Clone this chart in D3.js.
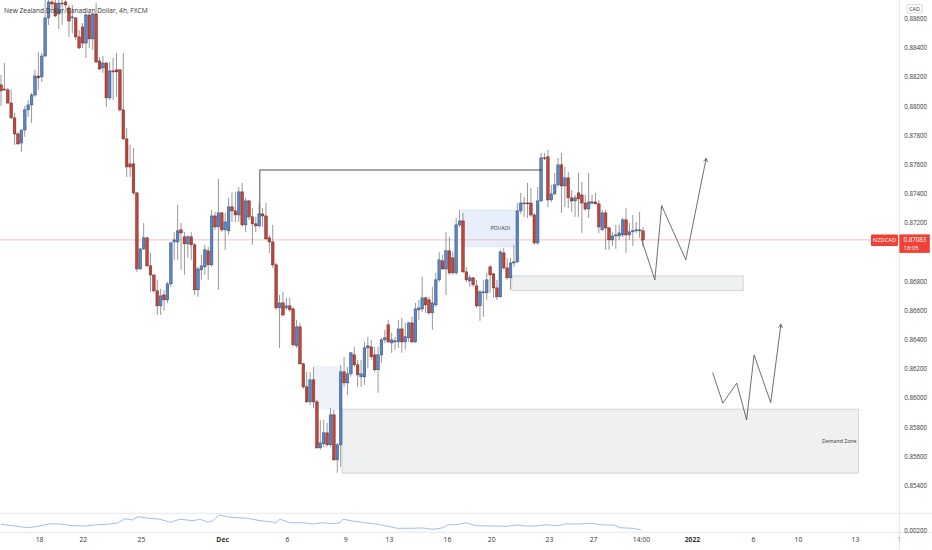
<!DOCTYPE html>
<html><head><meta charset="utf-8">
<script src="https://cdn.jsdelivr.net/npm/d3@7"></script>
<style>
html,body{margin:0;padding:0;background:#fff;}
svg{display:block;font-family:"Open Sans",sans-serif;}
</style></head><body>
<svg id="c" width="932" height="550"></svg>
<script>
// ---- data (NZD/CAD 4h candles) ----
const open=[0.88145,0.88117,0.88111,0.88021,0.87919,0.87809,0.87747,0.87836,0.87974,0.88008,
0.88076,0.88206,0.88200,0.88343,0.88604,0.88713,0.88706,0.88631,0.88706,0.88713,
0.88672,0.88604,0.88604,0.88474,0.88542,0.88432,0.88624,0.88460,0.88631,0.88309,
0.88261,0.88295,0.88056,0.88241,0.88248,0.88248,0.87974,0.87775,0.87604,0.87604,
0.87405,0.86884,0.87021,0.87097,0.86905,0.86843,0.86734,0.86631,0.86706,0.86672,
0.86782,0.87069,0.87069,0.87152,0.87104,0.87056,0.87104,0.87049,0.86741,0.86878,
0.86898,0.87008,0.86912,0.87247,0.87172,0.87268,0.87152,0.87145,0.87309,0.87282,
0.87254,0.87412,0.87186,0.87350,0.87241,0.87193,0.87179,0.87261,0.87247,0.87097,
0.87069,0.86912,0.86617,0.86651,0.86617,0.86631,0.86610,0.86357,0.86487,0.86234,
0.86076,0.85973,0.86124,0.85973,0.85658,0.85686,0.85761,0.85679,0.85884,0.85576,
0.85679,0.86179,0.86103,0.86165,0.86295,0.86227,0.86145,0.86145,0.86343,0.86350,
0.86295,0.86193,0.86295,0.86398,0.86501,0.86377,0.86384,0.86384,0.86473,0.86384,
0.86412,0.86514,0.86384,0.86604,0.86610,0.86686,0.86672,0.86583,0.86638,0.86809,
0.86939,0.86884,0.87008,0.86960,0.86857,0.87186,0.87213,0.86864,0.86802,0.86823,
0.86768,0.86631,0.86720,0.86720,0.86898,0.86850,0.86754,0.86693,0.86994,0.86891,
0.86823,0.86925,0.86932,0.87282,0.87336,0.87336,0.87336,0.87254,0.87062,0.87350,
0.87645,0.87652,0.87357,0.87398,0.87460,0.87597,0.87453,0.87508,0.87371,0.87350,
0.87405,0.87391,0.87336,0.87295,0.87343,0.87343,0.87330,0.87152,0.87268,0.87165,
0.87083,0.87110,0.87110,0.87117,0.87220,0.87117,0.87138,0.87145,0.87145,0.87145];
const high=[0.88213,0.88295,0.88124,0.88111,0.87953,0.87823,0.87836,0.88001,0.88042,0.88090,
0.88248,0.88371,0.88364,0.88727,0.88761,0.88796,0.88748,0.88741,0.88741,0.88734,
0.88693,0.88693,0.88611,0.88522,0.88569,0.88638,0.88638,0.88638,0.88706,0.88337,
0.88343,0.88302,0.88302,0.88330,0.88364,0.88254,0.88364,0.87850,0.87734,0.87713,
0.87412,0.87028,0.87199,0.87104,0.86994,0.86843,0.86809,0.86747,0.86741,0.86795,
0.87069,0.87138,0.87323,0.87199,0.87138,0.87117,0.87138,0.87062,0.86898,0.86980,
0.87049,0.87035,0.87289,0.87275,0.87501,0.87275,0.87268,0.87371,0.87412,0.87412,
0.87446,0.87473,0.87371,0.87357,0.87302,0.87241,0.87336,0.87302,0.87336,0.87117,
0.87186,0.86925,0.86706,0.86727,0.86686,0.86686,0.86624,0.86535,0.86514,0.86240,
0.86179,0.86179,0.86213,0.85987,0.85850,0.85850,0.85829,0.85932,0.85919,0.85692,
0.86227,0.86282,0.86213,0.86316,0.86350,0.86261,0.86261,0.86384,0.86419,0.86398,
0.86350,0.86350,0.86412,0.86467,0.86535,0.86446,0.86419,0.86535,0.86549,0.86514,
0.86521,0.86556,0.86651,0.86672,0.86830,0.86693,0.86693,0.86761,0.86857,0.87001,
0.86980,0.87138,0.87104,0.87001,0.87234,0.87289,0.87268,0.86898,0.86843,0.86830,
0.86809,0.86741,0.86809,0.86857,0.86912,0.86857,0.86809,0.87015,0.87028,0.86960,
0.86960,0.87049,0.87336,0.87405,0.87378,0.87473,0.87439,0.87268,0.87446,0.87679,
0.87679,0.87700,0.87460,0.87542,0.87645,0.87679,0.87583,0.87549,0.87426,0.87391,
0.87542,0.87480,0.87391,0.87542,0.87391,0.87405,0.87357,0.87289,0.87289,0.87172,
0.87138,0.87186,0.87186,0.87234,0.87302,0.87199,0.87254,0.87206,0.87275,0.87172];
const low=[0.88001,0.88104,0.88015,0.87912,0.87734,0.87734,0.87686,0.87789,0.87926,0.87884,
0.88063,0.88111,0.88165,0.88337,0.88556,0.88659,0.88611,0.88528,0.88556,0.88672,
0.88474,0.88501,0.88453,0.88391,0.88398,0.88330,0.88398,0.88385,0.88295,0.88248,
0.88227,0.87994,0.88042,0.88042,0.88063,0.87960,0.87768,0.87515,0.87515,0.87391,
0.86864,0.86878,0.87015,0.86898,0.86727,0.86720,0.86569,0.86569,0.86597,0.86651,
0.86761,0.86946,0.86946,0.86878,0.86843,0.86960,0.86946,0.86706,0.86693,0.86809,
0.86843,0.86809,0.86898,0.87152,0.86741,0.87138,0.87015,0.87117,0.87206,0.87206,
0.87206,0.87172,0.87138,0.87220,0.87049,0.87138,0.87165,0.87172,0.87083,0.86994,
0.86891,0.86604,0.86343,0.86556,0.86604,0.86590,0.86350,0.86343,0.86227,0.86062,
0.85966,0.85953,0.85932,0.85651,0.85645,0.85665,0.85665,0.85665,0.85569,0.85487,
0.85528,0.86076,0.86021,0.86145,0.86213,0.86076,0.86076,0.86090,0.86206,0.86261,
0.86179,0.86035,0.86240,0.86377,0.86377,0.86309,0.86330,0.86343,0.86309,0.86330,
0.86384,0.86377,0.86377,0.86535,0.86590,0.86583,0.86569,0.86467,0.86624,0.86795,
0.86878,0.86706,0.86843,0.86843,0.86843,0.87172,0.86857,0.86795,0.86761,0.86761,
0.86617,0.86528,0.86556,0.86672,0.86720,0.86686,0.86672,0.86686,0.86878,0.86809,
0.86741,0.86898,0.86925,0.87261,0.87241,0.87234,0.87241,0.87049,0.87049,0.87343,
0.87631,0.87309,0.87343,0.87391,0.87446,0.87268,0.87309,0.87302,0.87275,0.87241,
0.87241,0.87131,0.87282,0.87234,0.87323,0.87323,0.87131,0.87145,0.87015,0.87015,
0.87042,0.87021,0.87083,0.87104,0.86994,0.87083,0.87042,0.87131,0.87097,0.87035];
const close=[0.88104,0.88111,0.88021,0.87919,0.87809,0.87741,0.87836,0.87974,0.88008,0.88076,
0.88206,0.88193,0.88343,0.88604,0.88713,0.88700,0.88617,0.88706,0.88700,0.88693,
0.88583,0.88611,0.88474,0.88398,0.88432,0.88624,0.88460,0.88631,0.88302,0.88254,
0.88295,0.88056,0.88241,0.88234,0.88234,0.87974,0.87775,0.87583,0.87583,0.87405,
0.86884,0.87021,0.87097,0.86905,0.86843,0.86734,0.86631,0.86699,0.86672,0.86782,
0.87062,0.87083,0.87145,0.87131,0.87056,0.87104,0.87049,0.86741,0.86884,0.86905,
0.87015,0.86912,0.87247,0.87172,0.87268,0.87152,0.87206,0.87309,0.87282,0.87254,
0.87412,0.87186,0.87350,0.87241,0.87193,0.87179,0.87261,0.87247,0.87090,0.87069,
0.86912,0.86617,0.86651,0.86569,0.86631,0.86604,0.86364,0.86487,0.86234,0.86076,
0.85973,0.86124,0.85973,0.85658,0.85692,0.85761,0.85679,0.85884,0.85576,0.85679,
0.86179,0.86103,0.86165,0.86309,0.86227,0.86158,0.86165,0.86343,0.86357,0.86282,
0.86193,0.86295,0.86398,0.86412,0.86384,0.86398,0.86391,0.86473,0.86384,0.86419,
0.86514,0.86384,0.86610,0.86617,0.86686,0.86638,0.86583,0.86651,0.86809,0.86946,
0.86884,0.87008,0.86857,0.86857,0.87186,0.87213,0.86864,0.86809,0.86823,0.86775,
0.86631,0.86727,0.86727,0.86809,0.86843,0.86754,0.86693,0.87001,0.86891,0.86823,
0.86925,0.86932,0.87282,0.87336,0.87330,0.87330,0.87254,0.87062,0.87350,0.87645,
0.87644,0.87357,0.87398,0.87460,0.87597,0.87453,0.87508,0.87371,0.87350,0.87371,
0.87364,0.87336,0.87295,0.87343,0.87336,0.87330,0.87172,0.87268,0.87165,0.87083,
0.87110,0.87117,0.87131,0.87220,0.87117,0.87138,0.87145,0.87152,0.87152,0.87083];

// indicator (ATR-like) sampled along the candle index
const atrIdx=[0,3.5,7.9,11.5,14.4,18,21.2,24.7,28.3,31.2,34.4,36.5,38.6,40.3,43,46.8,49.8,52.7,56.5,58.6,
60.9,62.4,64.2,67.4,72.4,76.3,79.8,80.7,82.1,85.1,88.9,91.9,94.8,97.7,99.8,100.7,103.6,107.8,111.6,116.6,
120.4,124.2,127.2,130.1,131.6,134.2,136.9,139.8,144.8,148.7,152.2,154,157.5,160.4,164,166.3,170.2,173.7,177.2,180.2,
182.5,186,188.4];
const atrVal=[0.00259,0.00246,0.00228,0.00244,0.00264,0.00259,0.00246,0.00244,0.00255,0.00259,
0.00271,0.00309,0.00297,0.00327,0.00315,0.00304,0.00277,0.00304,0.00291,0.00304,
0.00277,0.00291,0.00342,0.00322,0.00313,0.00291,0.00280,0.00268,0.00304,0.00273,
0.00273,0.00262,0.00273,0.00264,0.00273,0.00304,0.00288,0.00271,0.00255,0.00223,
0.00223,0.00226,0.00214,0.00228,0.00255,0.00255,0.00273,0.00246,0.00244,0.00241,
0.00253,0.00244,0.00244,0.00255,0.00246,0.00262,0.00262,0.00268,0.00253,0.00253,
0.00228,0.00223,0.00208];

// 0.87000 sits under the last-price tag in the reference, so it is not listed
const priceTicks=[0.854,0.856,0.858,0.860,0.862,0.864,0.866,0.868,0.872,0.874,0.876,0.878,0.880,0.882,0.884,0.886];
const timeTickIdx=[11.2,24.1,41.2,65.1,84.2,101.3,114.2,131.3,144.3,161.3,174.3,188.4,203.4,221.4,234.6,251.4,265.0];
const timeTickLabels=["18","22","25","Dec","6","9","13","16","20","23","27","14:00","2022","6","10","13","17"];
const boldLabels=["Dec","2022"];
const lastPrice=0.87083;

// annotations in (candle index, price)
const resistLine=[[76.2,0.87254],[76.2,0.87562],[159.3,0.87562]];
const zones=[
 {name:"poi",x0:135.7,x1:152.2,p0:0.87288,p1:0.87035,label:"POI/AOI"},
 {name:"imb",x0:92.1,x1:100.4,p0:0.86220,p1:0.85920,label:""},
 {name:"demand",x0:100.4,x1:252.4,p0:0.85923,p1:0.85485,label:"Demand Zone"},
 {name:"ob",x0:150.4,x1:218.5,p0:0.86836,p1:0.86735,label:""}];
const path1=[[188.6,0.87083],[192.5,0.86809],[194.5,0.87318],[201.6,0.86946],[207.6,0.87642]];
const path2=[[209.5,0.86174],[212.5,0.85964],[216.6,0.86101],[219.5,0.85850],[221.7,0.86295],[226.6,0.85968],[229.6,0.86505]];

// ---- drawing ----
const W=932,H=550,axisX=899.3,mainBottom=513.3,indBottom=532.3;
const svg=d3.select("#c");
const x=d3.scaleLinear().domain([0,open.length-1]).range([1,643]);
const y=d3.scaleLinear().domain([0.854,0.886]).range([485.5,18.5]);
const yi=d3.scaleLinear().domain([0.0019,0.0036]).range([532,513]);

const defs=svg.append("defs");
defs.append("clipPath").attr("id","mainClip").append("rect").attr("x",0).attr("y",0).attr("width",axisX).attr("height",mainBottom);
defs.append("clipPath").attr("id","indClip").append("rect").attr("x",0).attr("y",mainBottom).attr("width",axisX).attr("height",indBottom-mainBottom);
defs.append("clipPath").attr("id","timeClip").append("rect").attr("x",0).attr("y",indBottom).attr("width",axisX+0.2).attr("height",H-indBottom);

const main=svg.append("g").attr("clip-path","url(#mainClip)");

// zones
const zoneStyle={poi:{fill:"#e8effb",stroke:"#dbe5f6"},imb:{fill:"#edf2fb",stroke:"none"},demand:{fill:"#eff0f2",stroke:"#c9ccd1"},ob:{fill:"#eff0f2",stroke:"#c9ccd1"}};
main.selectAll("rect.zone").data(zones).join("rect").attr("class","zone")
 .attr("x",d=>x(d.x0)).attr("width",d=>x(d.x1)-x(d.x0))
 .attr("y",d=>y(d.p0)).attr("height",d=>y(d.p1)-y(d.p0))
 .attr("fill",d=>zoneStyle[d.name].fill).attr("stroke",d=>zoneStyle[d.name].stroke).attr("stroke-width",0.8);
main.selectAll("text.zl").data(zones.filter(d=>d.label)).join("text").attr("class","zl")
 .attr("x",d=>x(d.x1)-(d.name==="poi"?8:2)).attr("y",d=>(y(d.p0)+y(d.p1))/2+2)
 .attr("text-anchor","end").attr("font-size",5.2).attr("fill","#333").text(d=>d.label);

// last price line
main.append("line").attr("x1",0).attr("x2",axisX).attr("y1",y(lastPrice)).attr("y2",y(lastPrice))
 .attr("stroke","#f3a3a3").attr("stroke-width",0.7);

// candles
const idx=d3.range(open.length);
const cg=main.append("g");
cg.selectAll("line.w").data(idx).join("line").attr("class","w")
 .attr("x1",i=>x(i)).attr("x2",i=>x(i)).attr("y1",i=>y(high[i])).attr("y2",i=>y(low[i]))
 .attr("stroke","#7d7d7d").attr("stroke-width",0.8);
cg.selectAll("rect.b").data(idx).join("rect").attr("class","b")
 .attr("x",i=>x(i)-1.3).attr("width",2.6)
 .attr("y",i=>y(Math.max(open[i],close[i])))
 .attr("height",i=>Math.max(0.8,Math.abs(y(open[i])-y(close[i]))))
 .attr("fill",i=>close[i]>=open[i]?"#5a86cb":"#c2453c")
 .attr("stroke",i=>close[i]>=open[i]?"#2f4a73":"#6e2620").attr("stroke-width",0.5);

// resistance line
main.append("path").attr("d",d3.line().x(d=>x(d[0])).y(d=>y(d[1]))(resistLine))
 .attr("fill","none").attr("stroke","#3d3d3d").attr("stroke-width",0.9);

// projection arrows
function arrow(pts){
  const line=d3.line().x(d=>x(d[0])).y(d=>y(d[1]));
  main.append("path").attr("d",line(pts)).attr("fill","none").attr("stroke","#4a4a4a").attr("stroke-width",0.8);
  const a=pts[pts.length-2],b=pts[pts.length-1];
  const ax=x(a[0]),ay=y(a[1]),bx=x(b[0]),by=y(b[1]);
  const ang=Math.atan2(by-ay,bx-ax),L=4,s=0.5;
  const p1=[bx-L*Math.cos(ang-s),by-L*Math.sin(ang-s)],p2=[bx-L*Math.cos(ang+s),by-L*Math.sin(ang+s)];
  main.append("path").attr("d",`M${p1}L${bx},${by}L${p2}`).attr("fill","none").attr("stroke","#4a4a4a").attr("stroke-width",0.8);
}
arrow(path1); arrow(path2);

// indicator pane
svg.append("g").attr("clip-path","url(#indClip)").append("path")
 .attr("d",d3.line().x((d,i)=>x(atrIdx[i])).y(d=>yi(d))(atrVal))
 .attr("fill","none").attr("stroke","#86aee6").attr("stroke-width",0.8);

// frame lines
svg.append("line").attr("x1",0).attr("x2",W).attr("y1",mainBottom).attr("y2",mainBottom).attr("stroke","#e1e3e8").attr("stroke-width",0.8);
svg.append("line").attr("x1",0).attr("x2",W).attr("y1",indBottom).attr("y2",indBottom).attr("stroke","#dcdfe4").attr("stroke-width",0.8);
svg.append("line").attr("x1",axisX).attr("x2",axisX).attr("y1",0).attr("y2",H).attr("stroke","#dcdfe4").attr("stroke-width",0.8);

// price axis
const pa=svg.append("g").attr("transform",`translate(${axisX},0)`)
 .call(d3.axisRight(y).tickValues(priceTicks).tickSize(0).tickPadding(5).tickFormat(d3.format(".5f")));
pa.select(".domain").remove();
pa.selectAll("text").attr("font-size",6.2).attr("fill","#333").attr("font-family","Open Sans");

// indicator axis
const ia=svg.append("g").attr("transform",`translate(${axisX},0)`)
 .call(d3.axisRight(yi).tickValues([0.002]).tickSize(0).tickPadding(5).tickFormat(d3.format(".5f")));
ia.select(".domain").remove();
ia.selectAll("text").attr("font-size",6.2).attr("fill","#333").attr("font-family","Open Sans");

// time axis
const ta=svg.append("g").attr("clip-path","url(#timeClip)").append("g").attr("transform",`translate(0,${indBottom})`)
 .call(d3.axisBottom(x).tickValues(timeTickIdx).tickSize(0).tickPadding(5).tickFormat((d,i)=>timeTickLabels[i]));
ta.select(".domain").remove();
ta.selectAll("text").attr("font-size",6.8).attr("fill","#333").attr("font-family","Open Sans")
 .attr("font-weight",(d,i)=>boldLabels.includes(timeTickLabels[i])?700:400);

// title
svg.append("text").attr("x",4).attr("y",12.5).attr("font-size",6.6).attr("fill","#333").text("New Zealand Dollar/Canadian Dollar, 4h, FXCM");

// currency box
svg.append("rect").attr("x",907).attr("y",4.5).attr("width",15).attr("height",8.5).attr("fill","#fff").attr("stroke","#c9ccd2").attr("stroke-width",0.7).attr("rx",1);
svg.append("text").attr("x",914.5).attr("y",11).attr("text-anchor","middle").attr("font-size",5.4).attr("fill","#333").text("CAD");

// price tags
const py=y(lastPrice);
svg.append("rect").attr("x",871).attr("y",py-5.5).attr("width",27).attr("height",11.5).attr("fill","#ef4136").attr("rx",1);
svg.append("text").attr("x",884.5).attr("y",py+2.2).attr("text-anchor","middle").attr("font-size",5.8).attr("fill","#fff").text("NZDCAD");
svg.append("rect").attr("x",axisX).attr("y",py-5.5).attr("width",30.5).attr("height",18.5).attr("fill","#ef4136");
svg.append("text").attr("x",903.5).attr("y",py+2.2).attr("font-size",6.2).attr("fill","#fff").text(d3.format(".5f")(lastPrice));
svg.append("text").attr("x",903.5).attr("y",py+10).attr("font-size",6).attr("fill","#fff").text("18:05");
</script>
</body></html>
